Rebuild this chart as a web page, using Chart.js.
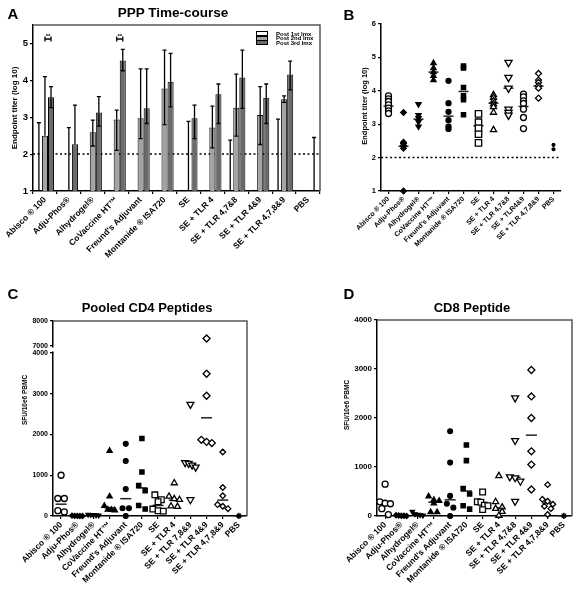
<!DOCTYPE html>
<html>
<head>
<meta charset="utf-8">
<script src="https://cdn.jsdelivr.net/npm/chart.js@4.4.1/dist/chart.umd.min.js"></script>
<style>
body { margin: 0; background: #fff; }
#wrap { position: relative; width: 579px; height: 599px; overflow: hidden; font-family: 'Liberation Sans', Arial, sans-serif; color: #000; }
canvas { position: absolute; left: 0; top: 0; }
.t { position: absolute; font-weight: bold; white-space: nowrap; line-height: 1; transform: translate(-50%, -50%); }
.r { transform: translate(-50%, -50%) rotate(-90deg); }
.bx { position: absolute; width: 10px; height: 3px; border: 1px solid #000; }
.lg { position: absolute; font-weight: bold; font-size: 6px; line-height: 1; white-space: nowrap; }
</style>
</head>
<body>
<div id="wrap">
  <canvas id="cA" width="579" height="599"></canvas>
  <canvas id="cB" width="579" height="599"></canvas>
  <canvas id="cC" width="579" height="599"></canvas>
  <canvas id="cD" width="579" height="599"></canvas>

  <div class="t" style="left:13px;top:13px;font-size:15px;">A</div>
  <div class="t" style="left:173px;top:13px;font-size:13.5px;">PPP Time-course</div>
  <div class="t" style="left:349px;top:14px;font-size:15px;">B</div>
  <div class="t" style="left:13px;top:293px;font-size:15px;">C</div>
  <div class="t" style="left:147px;top:307px;font-size:13px;">Pooled CD4 Peptides</div>
  <div class="t" style="left:349px;top:293px;font-size:15px;">D</div>
  <div class="t" style="left:472px;top:307px;font-size:13px;">CD8 Peptide</div>

  <div class="t r" style="left:15px;top:108px;font-size:8px;">Endpoint titer (log 10)</div>
  <div class="t r" style="left:365px;top:106px;font-size:7.5px;">Endpoint titer (log 10)</div>
  <div class="t r" style="left:25px;top:400px;font-size:6.5px;">SFU/10e6 PBMC</div>
  <div class="t r" style="left:347px;top:405px;font-size:6.5px;">SFU/10e6 PBMC</div>

  <div class="bx" style="left:256px;top:31px;background:#fff;"></div>
  <div class="bx" style="left:256px;top:35.5px;background:#a3a3a3;"></div>
  <div class="bx" style="left:256px;top:40px;background:#6b6b6b;"></div>
  <div class="lg" style="left:276px;top:30.5px;">Post 1st Imx</div>
  <div class="lg" style="left:276px;top:35px;">Post 2nd Imx</div>
  <div class="lg" style="left:276px;top:39.5px;">Post 3rd Imx</div>
</div>

<script>
// ---- data ----
var catsA = ['Abisco ® 100', 'Adju-Phos®', 'Alhydrogel®', 'CoVaccine HT™', "Freund's Adjuvant", 'Montanide ® ISA720', 'SE', 'SE + TLR 4', 'SE + TLR 4,7&8', 'SE + TLR 4&9', 'SE + TLR 4,7,8&9', 'PBS'];
var catsB = ['Abisco ® 100', 'Adju-Phos®', 'Alhydrogel®', 'CoVaccine HT™', "Freund's Adjuvant", 'Montanide ® ISA720', 'SE', 'SE + TLR 4', 'SE + TLR 4,7&8', 'SE + TLR4&9', 'SE + TLR 4,7,8&9', 'PBS'];
var catsC = ['Abisco ® 100', 'Adju-Phos®', 'Alhydrogel®', 'CoVaccine HT™', "Freund's Adjuvant", 'Montanide ® ISA720', 'SE', 'SE + TLR 4', 'SE + TLR 7,8&9', 'SE + TLR 4&9', 'SE + TLR 4,7,8&9', 'PBS'];
var catsD = catsA;

var seriesA = ['Post 1st Imx', 'Post 2nd Imx', 'Post 3rd Imx'];
var post1Mean = [1, null, null, null, null, null, null, null, 1, null, 1, null];
var post1Lo   = [null, null, null, null, null, null, null, null, null, null, null, null];
var post1Hi   = [2.85, null, null, null, null, null, null, null, 2.38, null, 2.95, null];
var post2Mean = [2.50, 1, 2.59, 2.94, 2.97, 3.78, 1, 2.72, 3.26, 3.06, 3.49, null];
var post2Lo   = [null, null, 2.22, 2.10, 2.42, 2.80, null, 2.17, 2.49, 2.26, 3.40, null];
var post2Hi   = [4.10, 2.72, 2.92, 3.19, 4.31, 4.82, 2.89, 3.30, 4.17, 3.83, 3.58, null];
var post3Mean = [3.54, 2.27, 3.13, 4.54, 3.24, 3.96, 2.97, 3.62, 4.08, 3.53, 4.16, 1];
var post3Lo   = [3.26, null, 2.76, 4.26, 2.83, 3.28, 2.42, 2.83, 3.24, 2.83, 3.74, null];
var post3Hi   = [3.83, 3.33, 3.56, 4.84, 4.31, 4.73, 3.33, 3.90, 4.82, 3.90, 4.52, 2.45];
var sigCats = [0, 3];
var sigLevel = 5.12;
var sigText = '**';
var cutoff = 2;

var ticksA = [1, 2, 3, 4, 5];
var ticksB = [1, 2, 3, 4, 5, 6];
var ticksC = [0, 1000, 2000, 3000, 4000];
var ticksCTop = [7000, 8000];
var ticksD = [0, 1000, 2000, 3000, 4000];

var titersB = [
  [3.85, 3.76, 3.68, 3.58, 3.48, 3.40, 3.32],
  [3.35, 2.46, 2.42, 2.36, 2.28, 1.0],
  [3.60, 3.27, 3.18, 3.07, 2.93],
  [4.83, 4.68, 4.56, 4.45, 4.32],
  [4.30, 3.63, 3.37, 3.12, 2.93, 2.86],
  [4.74, 4.68, 4.10, 3.85, 3.73, 3.28],
  [3.31, 3.06, 2.88, 2.70, 2.44],
  [3.88, 3.80, 3.70, 3.60, 3.52, 3.35, 2.83],
  [4.85, 4.40, 4.08, 3.45, 3.35, 3.27],
  [3.90, 3.82, 3.70, 3.62, 3.45, 3.20, 2.87],
  [4.52, 4.32, 4.25, 4.15, 4.08, 3.78],
  [2.38, 2.25]
];
var centerB = [3.54, 2.34, 3.15, 4.56, 3.24, 3.98, 2.95, 3.63, 4.08, 3.53, 4.14, null];

var sfuC = [
  [1000, 430, 430, 130, 100],
  [10, 5, 5, 0, 0],
  [35, 30, 25, 20, 15],
  [1600, 480, 250, 160, 150, 140],
  [1770, 1350, 660, 190, 190, 0],
  [1900, 1080, 750, 620, 260, 170],
  [520, 400, 350, 170, 130, 120],
  [810, 480, 420, 400, 240, 230],
  [2740, 1310, 1290, 1250, 1200, 400],
  [7300, 3490, 2950, 1870, 1820, 1790],
  [1570, 700, 495, 280, 240, 180],
  [5]
];
var centerC = [290, 5, 25, 205, 425, 690, 260, 390, 1270, 2410, 390, 5];

var sfuD = [
  [650, 290, 260, 250, 150, 30],
  [15, 10, 5, 5, 0],
  [90, 40, 30, 20, 10],
  [400, 330, 310, 260, 80, 80],
  [1730, 1090, 410, 250, 170, 0],
  [1450, 1130, 560, 450, 210, 140],
  [490, 290, 280, 220, 210, 130],
  [820, 290, 180, 150, 90, 10],
  [2410, 1540, 800, 780, 710, 300],
  [2980, 2440, 2000, 1320, 1050, 540],
  [640, 340, 300, 240, 200, 150, 30],
  [5]
];
var centerD = [258, 5, 30, 280, 330, 510, 250, 165, 790, 1650, 265, 5];

// ---- marker styles: [shape, rotation, radius, filled] ----
var marksB = [
  ['circle', 0, 3, false], ['rectRot', 0, 2.8, true], ['triangle', 180, 3, true], ['triangle', 0, 3, true],
  ['circle', 0, 2.5, true], ['rect', 0, 3, true], ['rect', 0, 4.5, false], ['triangle', 0, 3.5, false],
  ['triangle', 180, 4.2, false], ['circle', 0, 3, false], ['rectRot', 0, 3, false], ['star', 0, 2, false]
];
var marksCD = [
  ['circle', 0, 3, false], ['rectRot', 0, 2.5, true], ['triangle', 180, 2.5, true], ['triangle', 0, 3, true],
  ['circle', 0, 2.4, true], ['rect', 0, 3, true], ['rect', 0, 4, false], ['triangle', 0, 3.5, false],
  ['triangle', 180, 4, false], ['rectRot', 0, 3.5, false], ['rectRot', 0, 2.8, false], ['star', 0, 3, false]
];

Chart.defaults.font.family = "'Liberation Sans', Arial, sans-serif";
Chart.defaults.font.weight = 'bold';
Chart.defaults.color = '#000';
Chart.defaults.animation = false;
Chart.defaults.events = [];
Chart.defaults.plugins.legend.display = false;
Chart.defaults.plugins.tooltip.enabled = false;

// ---- plugins ----
var framePlugin = {
  id: 'frame',
  afterDraw: function (chart) {
    var a = chart.chartArea, ctx = chart.ctx;
    ctx.save();
    ctx.strokeStyle = '#555';
    ctx.lineWidth = 1.5;
    ctx.beginPath();
    ctx.moveTo(a.left, a.top);
    ctx.lineTo(a.right, a.top);
    ctx.lineTo(a.right, a.bottom);
    ctx.stroke();
    ctx.restore();
  }
};

var cutoffPlugin = {
  id: 'cutoff',
  beforeDatasetsDraw: function (chart) {
    var a = chart.chartArea, ctx = chart.ctx;
    var py = chart.scales.y.getPixelForValue(cutoff);
    ctx.save();
    ctx.strokeStyle = '#000';
    ctx.lineWidth = 1.5;
    ctx.setLineDash([2, 2.5]);
    ctx.beginPath();
    ctx.moveTo(a.left, py);
    ctx.lineTo(a.right, py);
    ctx.stroke();
    ctx.restore();
  }
};

var errorPlugin = {
  id: 'errors',
  afterDatasetsDraw: function (chart) {
    var ctx = chart.ctx, y = chart.scales.y;
    ctx.save();
    ctx.strokeStyle = '#000';
    ctx.lineWidth = 1.3;
    chart.data.datasets.forEach(function (ds, di) {
      var meta = chart.getDatasetMeta(di);
      meta.data.forEach(function (bar, i) {
        var m = ds.data[i];
        if (m == null) return;
        var pm = y.getPixelForValue(m);
        [ds.errLo[i], ds.errHi[i]].forEach(function (v) {
          if (v == null) return;
          var pv = y.getPixelForValue(v);
          ctx.beginPath();
          ctx.moveTo(bar.x, pm);
          ctx.lineTo(bar.x, pv);
          ctx.moveTo(bar.x - 2, pv);
          ctx.lineTo(bar.x + 2, pv);
          ctx.stroke();
        });
      });
    });
    // significance brackets between post 2nd and post 3rd
    var m1 = chart.getDatasetMeta(1), m2 = chart.getDatasetMeta(2);
    var py = y.getPixelForValue(sigLevel);
    ctx.font = 'bold 6px "Liberation Sans", Arial, sans-serif';
    ctx.textAlign = 'center';
    ctx.fillStyle = '#000';
    sigCats.forEach(function (i) {
      var x1 = m1.data[i].x, x2 = m2.data[i].x;
      ctx.beginPath();
      ctx.moveTo(x1, py); ctx.lineTo(x2, py);
      ctx.moveTo(x1, py - 2.5); ctx.lineTo(x1, py + 2.5);
      ctx.moveTo(x2, py - 2.5); ctx.lineTo(x2, py + 2.5);
      ctx.stroke();
      ctx.fillText(sigText, (x1 + x2) / 2, py - 1.5);
    });
    ctx.restore();
  }
};

var breakPlugin = {
  id: 'axisBreak',
  afterDraw: function (chart) {
    var ctx = chart.ctx, a = chart.chartArea;
    var top = chart.scales.y2.getPixelForValue(7000);
    var bot = chart.scales.y.getPixelForValue(4000);
    ctx.save();
    ctx.fillStyle = '#fff';
    ctx.fillRect(a.left - 2, top + 1.5, 4, bot - top - 3);
    ctx.restore();
  }
};

// ---- helpers ----
var gridStyle = { drawOnChartArea: false, tickLength: 3, color: '#000', lineWidth: 1.2 };
var borderStyle = { color: '#000', width: 1.5 };

function yAxis(min, max, vals, size, width, extra) {
  return Object.assign({
    type: 'linear', position: 'left', min: min, max: max,
    afterBuildTicks: function (s) { s.ticks = vals.map(function (v) { return { value: v }; }); },
    ticks: { font: { size: size }, padding: 2, callback: function (v) { return String(v); } },
    grid: gridStyle,
    border: borderStyle,
    afterFit: function (s) { s.width = width; }
  }, extra || {});
}

function xAxisFit(height) {
  return function (s) { s.height = height; s.paddingLeft = 0; s.paddingRight = 0; };
}

function xAxisLinear(cats, size, height) {
  return {
    type: 'linear', min: -0.5, max: cats.length - 0.5,
    afterBuildTicks: function (s) { s.ticks = cats.map(function (c, i) { return { value: i }; }); },
    ticks: { font: { size: size }, padding: 1, autoSkip: false, minRotation: 45, maxRotation: 45,
      callback: function (v) { return cats[v]; } },
    grid: gridStyle,
    border: borderStyle,
    afterFit: xAxisFit(height)
  };
}

// spread points of similar value side by side, centred on the category
function dodge(vals, thr) {
  var idx = vals.map(function (v, i) { return i; }).sort(function (a, b) { return vals[b] - vals[a]; });
  var off = vals.map(function () { return 0; });
  var row = [];
  function flush() {
    var n = row.length, step = n > 1 ? Math.min(0.4, 0.65 / (n - 1)) : 0;
    row.forEach(function (k, j) { off[k] = (j - (n - 1) / 2) * step; });
    row = [];
  }
  idx.forEach(function (k) {
    if (row.length && vals[row[0]] - vals[k] > thr) flush();
    row.push(k);
  });
  flush();
  return off;
}

function scatterSets(groups, centers, marks, thr, breakAt, lineR) {
  var sets = [];
  groups.forEach(function (vals, i) {
    var mk = marks[i];
    var off = thr ? dodge(vals, thr) : vals.map(function () { return 0; });
    var low = [], high = [];
    vals.forEach(function (v, k) {
      (breakAt && v > breakAt ? high : low).push({ x: i + off[k], y: v });
    });
    var style = {
      pointStyle: mk[0], pointRotation: mk[1], pointRadius: mk[2],
      pointBackgroundColor: mk[3] ? '#000' : '#fff', pointBorderColor: '#000',
      pointBorderWidth: 1.3, showLine: false, clip: false
    };
    sets.push(Object.assign({ data: low, yAxisID: 'y' }, style));
    if (high.length) sets.push(Object.assign({ data: high, yAxisID: 'y2' }, style));
  });
  var med = [];
  centers.forEach(function (m, i) { if (m != null) med.push({ x: i, y: m }); });
  sets.push({ data: med, yAxisID: 'y', pointStyle: 'line', pointRadius: lineR, pointBorderColor: '#222',
    pointBorderWidth: 1.5, showLine: false, clip: false });
  return sets;
}

// ---- A: time-course bars ----
new Chart(document.getElementById('cA'), {
  type: 'bar',
  data: {
    labels: catsA,
    datasets: [
      { label: seriesA[0], data: post1Mean, errLo: post1Lo, errHi: post1Hi, backgroundColor: '#fff', borderColor: '#000', borderWidth: 1 },
      { label: seriesA[1], data: post2Mean, errLo: post2Lo, errHi: post2Hi, backgroundColor: '#a3a3a3', borderColor: '#000', borderWidth: 1 },
      { label: seriesA[2], data: post3Mean, errLo: post3Lo, errHi: post3Hi, backgroundColor: '#6b6b6b', borderColor: '#000', borderWidth: 1 }
    ]
  },
  options: {
    responsive: false,
    layout: { padding: { left: 8, right: 259, top: 25, bottom: 308 } },
    datasets: { bar: { categoryPercentage: 0.76, barPercentage: 1 } },
    scales: {
      x: { ticks: { font: { size: 8.5 }, padding: 1, autoSkip: false, minRotation: 45, maxRotation: 45 },
           grid: Object.assign({ offset: true }, gridStyle), border: borderStyle, afterFit: xAxisFit(100) },
      y: yAxis(1, 5.5, ticksA, 9.5, 25)
    }
  },
  plugins: [cutoffPlugin, errorPlugin, framePlugin]
});

// ---- B: titers per animal ----
new Chart(document.getElementById('cB'), {
  type: 'scatter',
  data: { datasets: scatterSets(titersB, centerB, marksB, 0, null, 5) },
  options: {
    responsive: false,
    layout: { padding: { left: 359, right: 18, top: 24, bottom: 308 } },
    scales: {
      x: xAxisLinear(catsB, 7, 100),
      y: yAxis(1, 6, ticksB, 7.5, 22)
    }
  },
  plugins: [cutoffPlugin]
});

// ---- C: pooled CD4 peptides, broken axis ----
new Chart(document.getElementById('cC'), {
  type: 'scatter',
  data: { datasets: scatterSets(sfuC, centerC, marksCD, 150, 4000, 5.5) },
  options: {
    responsive: false,
    layout: { padding: { left: 16, right: 332, top: 321, bottom: 3 } },
    scales: {
      x: xAxisLinear(catsC, 8.5, 80),
      y: yAxis(0, 4000, ticksC, 7, 37, { stack: 'c', stackWeight: 163 }),
      y2: yAxis(6720, 8000, ticksCTop, 7, 37, { stack: 'c', stackWeight: 32 })
    }
  },
  plugins: [framePlugin, breakPlugin]
});

// ---- D: CD8 peptide ----
new Chart(document.getElementById('cD'), {
  type: 'scatter',
  data: { datasets: scatterSets(sfuD, centerD, marksCD, 125, null, 5.5) },
  options: {
    responsive: false,
    layout: { padding: { left: 340, right: 6, top: 320, bottom: 3 } },
    scales: {
      x: xAxisLinear(catsD, 8.5, 80),
      y: yAxis(0, 4000, ticksD, 8, 37)
    }
  },
  plugins: [framePlugin]
});
</script>
</body>
</html>
